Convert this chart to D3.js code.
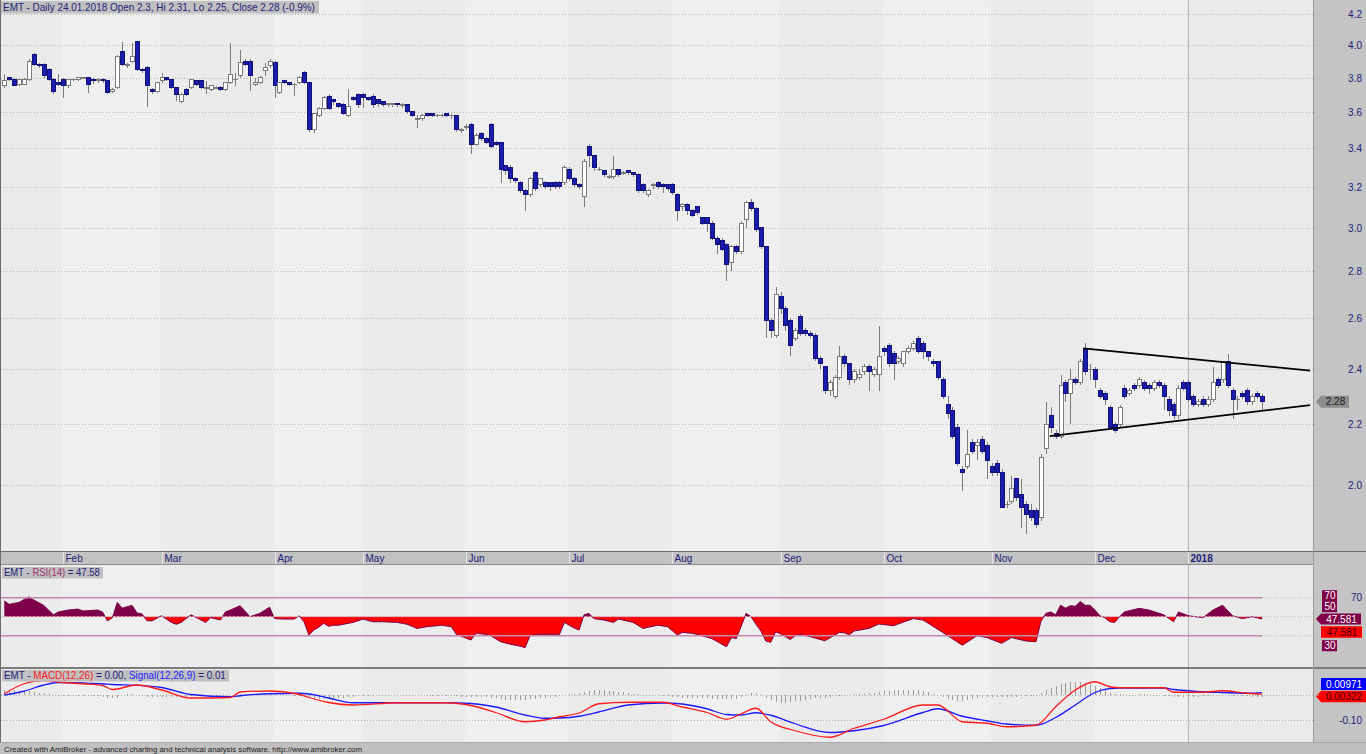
<!DOCTYPE html>
<html><head><meta charset="utf-8">
<script src="https://cdn.jsdelivr.net/npm/d3@7"></script>
<style>
html,body{margin:0;padding:0;background:#ebebeb;overflow:hidden}
svg{display:block}
text{font-family:"Liberation Sans",Arial,sans-serif}
</style></head><body>
<svg id="c" width="1366" height="754"></svg>
<script>
// ---------------- DATA ----------------
const opens = [
3.75,3.80,3.79,3.76,3.76,3.79,3.94,3.88,3.88,3.85,
3.79,3.77,3.79,3.75,3.79,3.79,3.80,3.80,3.79,3.78,
3.79,3.78,3.72,3.74,3.96,3.87,3.90,4.02,3.85,3.86,
3.73,3.72,3.78,3.80,3.79,3.74,3.66,3.73,3.74,3.78,
3.78,3.74,3.73,3.74,3.74,3.73,3.77,3.79,3.81,3.90,
3.90,3.76,3.77,3.84,3.87,3.89,3.71,3.78,3.77,3.76,
3.77,3.83,3.77,3.50,3.58,3.62,3.69,3.67,3.65,3.64,
3.58,3.68,3.70,3.70,3.68,3.69,3.67,3.66,3.64,3.64,
3.65,3.64,3.64,3.60,3.56,3.56,3.59,3.59,3.58,3.58,
3.59,3.58,3.58,3.50,3.51,3.53,3.42,3.48,3.45,3.53,
3.43,3.43,3.31,3.30,3.24,3.22,3.18,3.16,3.27,3.21,
3.22,3.22,3.22,3.22,3.22,3.29,3.24,3.21,3.15,3.41,
3.36,3.29,3.28,3.25,3.25,3.29,3.27,3.28,3.27,3.26,
3.21,3.16,3.21,3.22,3.21,3.21,3.21,3.16,3.10,3.11,
3.08,3.10,3.05,3.05,3.02,2.95,2.94,2.92,2.84,2.91,
2.89,3.04,3.12,3.09,3.00,2.91,2.59,2.53,2.69,2.64,
2.59,2.52,2.61,2.55,2.54,2.53,2.44,2.41,2.32,2.30,
2.37,2.45,2.42,2.36,2.37,2.39,2.41,2.38,2.38,2.48,
2.49,2.46,2.43,2.42,2.47,2.48,2.52,2.50,2.47,2.43,
2.43,2.36,2.27,2.25,2.19,2.05,2.06,2.14,2.13,2.15,
2.13,2.06,2.07,2.04,1.94,1.95,2.02,1.97,1.94,1.92,
1.92,1.90,2.12,2.23,2.17,2.16,2.35,2.31,2.36,2.35,
2.48,2.40,2.40,2.32,2.31,2.26,2.20,2.20,2.33,2.31,
2.34,2.34,2.35,2.34,2.33,2.35,2.34,2.29,2.27,2.23,
2.35,2.35,2.30,2.27,2.29,2.27,2.29,2.36,2.36,2.43,
2.32,2.29,2.31,2.32,2.28,2.31,2.30];
const highs = [
3.82,3.80,3.80,3.79,3.80,3.91,3.95,3.89,3.89,3.86,
3.80,3.82,3.80,3.79,3.80,3.80,3.80,3.80,3.80,3.80,
3.80,3.78,3.74,3.94,4.02,3.89,4.01,4.02,3.86,3.87,
3.74,3.77,3.83,3.80,3.79,3.74,3.71,3.74,3.79,3.78,
3.78,3.78,3.75,3.75,3.75,3.77,4.01,3.83,3.97,3.91,
3.91,3.80,3.81,3.89,3.91,3.90,3.77,3.78,3.77,3.77,
3.81,3.84,3.77,3.59,3.63,3.69,3.70,3.67,3.65,3.65,
3.73,3.69,3.71,3.71,3.68,3.70,3.67,3.66,3.65,3.65,
3.65,3.65,3.64,3.60,3.58,3.59,3.59,3.59,3.59,3.59,
3.59,3.59,3.58,3.51,3.53,3.54,3.48,3.49,3.46,3.54,
3.44,3.43,3.31,3.31,3.25,3.23,3.19,3.25,3.28,3.24,
3.23,3.22,3.23,3.23,3.31,3.30,3.25,3.22,3.34,3.42,
3.36,3.30,3.28,3.26,3.36,3.29,3.28,3.28,3.27,3.27,
3.22,3.19,3.22,3.23,3.22,3.21,3.22,3.17,3.12,3.12,
3.09,3.10,3.05,3.05,3.03,2.96,2.95,2.93,2.92,2.92,
3.03,3.13,3.14,3.10,3.00,2.91,2.60,2.73,2.71,2.65,
2.60,2.56,2.62,2.56,2.55,2.54,2.45,2.41,2.36,2.38,
2.49,2.46,2.42,2.40,2.40,2.42,2.42,2.41,2.57,2.49,
2.50,2.47,2.45,2.47,2.49,2.51,2.53,2.51,2.47,2.44,
2.43,2.37,2.30,2.26,2.20,2.06,2.18,2.15,2.15,2.16,
2.14,2.07,2.08,2.05,1.95,2.03,2.02,2.02,1.95,1.94,
1.93,2.10,2.28,2.26,2.18,2.38,2.36,2.40,2.37,2.44,
2.50,2.42,2.41,2.33,2.32,2.27,2.21,2.27,2.34,2.33,
2.35,2.37,2.36,2.35,2.36,2.36,2.35,2.30,2.28,2.34,
2.36,2.36,2.31,2.29,2.30,2.30,2.41,2.37,2.43,2.46,
2.33,2.30,2.32,2.33,2.31,2.32,2.31];
const lows = [
3.74,3.78,3.75,3.75,3.76,3.78,3.87,3.86,3.80,3.78,
3.70,3.75,3.68,3.74,3.78,3.78,3.79,3.71,3.76,3.77,
3.77,3.70,3.71,3.73,3.87,3.86,3.89,3.84,3.83,3.63,
3.70,3.71,3.77,3.78,3.73,3.66,3.65,3.69,3.73,3.75,
3.73,3.70,3.72,3.73,3.72,3.72,3.76,3.75,3.80,3.87,
3.72,3.75,3.76,3.81,3.86,3.68,3.70,3.76,3.75,3.69,
3.76,3.76,3.49,3.48,3.57,3.61,3.61,3.64,3.62,3.58,
3.57,3.66,3.62,3.62,3.66,3.62,3.63,3.63,3.63,3.63,
3.63,3.62,3.59,3.57,3.51,3.55,3.57,3.57,3.57,3.57,
3.57,3.56,3.49,3.48,3.50,3.37,3.41,3.44,3.42,3.40,
3.41,3.22,3.26,3.22,3.22,3.17,3.08,3.15,3.18,3.20,
3.19,3.18,3.19,3.19,3.21,3.23,3.20,3.19,3.10,3.30,
3.28,3.28,3.25,3.24,3.24,3.25,3.26,3.26,3.25,3.17,
3.17,3.15,3.19,3.19,3.17,3.18,3.16,3.03,3.08,3.06,
3.05,3.06,3.01,2.98,2.94,2.88,2.89,2.76,2.80,2.88,
2.88,3.00,3.08,2.98,2.90,2.52,2.52,2.52,2.62,2.55,
2.45,2.51,2.53,2.53,2.52,2.43,2.40,2.31,2.30,2.29,
2.36,2.41,2.34,2.35,2.36,2.38,2.32,2.37,2.32,2.45,
2.41,2.36,2.42,2.41,2.46,2.47,2.46,2.44,2.43,2.41,
2.36,2.29,2.22,2.15,2.06,1.98,2.05,2.10,2.08,2.10,
2.02,2.03,2.03,1.93,1.93,1.94,1.95,1.87,1.85,1.89,
1.87,1.89,2.10,2.17,2.15,2.15,2.28,2.20,2.34,2.34,
2.38,2.36,2.33,2.29,2.27,2.18,2.17,2.19,2.29,2.30,
2.32,2.33,2.32,2.31,2.32,2.33,2.25,2.23,2.22,2.22,
2.32,2.28,2.26,2.26,2.26,2.26,2.28,2.33,2.35,2.33,
2.22,2.25,2.29,2.27,2.27,2.29,2.25];
const closes = [
3.78,3.79,3.75,3.79,3.79,3.90,3.88,3.87,3.81,3.79,
3.72,3.76,3.75,3.79,3.79,3.80,3.80,3.76,3.78,3.79,
3.78,3.71,3.73,3.93,3.88,3.88,3.93,3.85,3.84,3.75,
3.72,3.77,3.80,3.79,3.74,3.70,3.70,3.70,3.79,3.76,
3.74,3.74,3.75,3.74,3.73,3.77,3.82,3.79,3.89,3.88,
3.81,3.77,3.80,3.86,3.90,3.75,3.77,3.77,3.76,3.76,
3.80,3.77,3.50,3.59,3.62,3.68,3.62,3.66,3.63,3.59,
3.63,3.67,3.64,3.68,3.67,3.64,3.65,3.64,3.65,3.65,
3.64,3.64,3.60,3.58,3.56,3.58,3.58,3.58,3.58,3.58,
3.58,3.58,3.50,3.50,3.52,3.42,3.47,3.45,3.43,3.41,
3.42,3.29,3.28,3.24,3.23,3.18,3.16,3.24,3.19,3.24,
3.20,3.20,3.20,3.20,3.30,3.24,3.21,3.20,3.33,3.36,
3.30,3.29,3.26,3.25,3.29,3.26,3.27,3.27,3.26,3.18,
3.18,3.18,3.21,3.20,3.20,3.19,3.17,3.08,3.11,3.08,
3.06,3.07,3.02,3.02,2.95,2.92,2.90,2.83,2.91,2.89,
3.02,3.12,3.09,2.99,2.91,2.59,2.55,2.70,2.64,2.57,
2.49,2.55,2.54,2.54,2.53,2.44,2.42,2.32,2.35,2.37,
2.45,2.42,2.36,2.39,2.38,2.41,2.39,2.40,2.45,2.47,
2.42,2.42,2.44,2.47,2.48,2.50,2.47,2.47,2.45,2.42,
2.37,2.30,2.24,2.16,2.07,2.04,2.10,2.11,2.14,2.11,
2.08,2.04,2.04,1.93,1.94,1.99,1.96,1.93,1.91,1.90,
1.88,2.09,2.20,2.19,2.16,2.34,2.31,2.36,2.35,2.43,
2.39,2.40,2.36,2.30,2.29,2.19,2.18,2.26,2.30,2.32,
2.33,2.36,2.33,2.33,2.35,2.34,2.30,2.25,2.23,2.33,
2.33,2.29,2.27,2.28,2.27,2.29,2.35,2.34,2.43,2.34,
2.29,2.29,2.30,2.28,2.30,2.30,2.28];

const monthLabels = ["Feb","Mar","Apr","May","Jun","Jul","Aug","Sep","Oct","Nov","Dec","2018"];
const monthIdx    = [12,32,55,73,94,115,136,158,179,201,222,241];
const priceTicks  = [2.0,2.2,2.4,2.6,2.8,3.0,3.2,3.4,3.6,3.8,4.0,4.2];

const rsiIdx = [0,1,3,5,6,8,10,11,13,15,16,19,20,21,22,23,24,26,27,28,29,30,32,34,35,36,38,41,42,44,45,46,48,50,52,54,55,57,59,60,61,62,63,64,65,66,67,68,71,73,75,77,80,82,84,86,89,91,92,95,96,98,99,101,103,105,106,107,109,113,114,116,117,118,119,120,122,124,125,128,130,133,135,137,138,140,141,144,147,148,149,150,151,152,153,154,155,156,157,158,159,160,161,162,164,167,170,171,172,173,176,178,181,185,187,191,195,198,200,203,205,208,210,211,212,213,214,215,216,217,218,219,220,221,222,223,224,225,226,227,228,231,233,236,238,239,241,244,246,248,250,252,254,256];
const rsiVals = [66.5,63,65,71,67.5,62,52,55,57,58,56,57,55,45.5,49,65,59,62,54,53,46,45.5,51,44,42,44,52,44,49,46.5,55,57,61.6,50,53.5,60,48,47.5,47.5,51,44.7,30.7,36,39,43,40,41,41,44,47.5,44.7,44.7,44,42,37.7,39.5,41,39.5,31.4,25.4,32.5,31.4,30,23.7,21,19,17.4,30,31.4,31.4,44,38,36,52,53.5,48,46.5,44,47.5,44,37.7,41,39.5,30.7,33.5,32.5,31.4,27,18.4,28,27,40,53.5,50,42,35,24.4,23,34,32,29,26,30,31.4,29,24.7,33.5,33,31,35,37.7,42.3,40.5,48,46.5,33.5,20,30,28,22,28,24.4,23.7,45,53.5,55,52,62,59,61.6,61,66,62,62,57,51,49,44.7,44,50,55,58.8,57,52,44.7,55,51,49,57,62,51,48,50,47.58];

const macdIdx    = [0,4,8,11,16,20,22,27,32,38,46,48,54,60,62,66,71,80,90,95,100,106,110,113,117,121,127,134,138,143,147,150,153,156,161,168,173,179,187,190,195,200,204,210,214,218,222,225,227,236,238,244,248,253,256];
const macdVals   = [0.005,0.045,0.058,0.052,0.045,0.038,0.022,0.040,0.020,-0.012,-0.010,0.012,0.016,0.003,-0.010,-0.030,-0.040,-0.031,-0.031,-0.042,-0.070,-0.107,-0.100,-0.087,-0.072,-0.035,-0.029,-0.029,-0.048,-0.070,-0.097,-0.075,-0.053,-0.107,-0.143,-0.169,-0.133,-0.097,-0.040,-0.040,-0.107,-0.113,-0.127,-0.121,-0.047,0.020,0.053,0.033,0.029,0.029,0.011,0.011,0.017,0.007,0.0032];
const signalVals = [0.000,0.015,0.040,0.050,0.048,0.045,0.042,0.039,0.030,0.002,-0.007,-0.003,0.005,0.007,0.004,-0.012,-0.031,-0.031,-0.031,-0.034,-0.048,-0.080,-0.093,-0.092,-0.085,-0.068,-0.040,-0.032,-0.036,-0.055,-0.078,-0.080,-0.071,-0.081,-0.115,-0.150,-0.143,-0.122,-0.070,-0.055,-0.085,-0.103,-0.116,-0.121,-0.090,-0.040,0.010,0.026,0.028,0.028,0.022,0.013,0.010,0.007,0.0097];
const histVals = [
0.020,0.020,0.019,0.018,0.016,0.015,0.012,0.010,0.008,0.005,
0.002,-0.002,-0.003,-0.004,-0.004,-0.003,-0.004,-0.004,-0.003,-0.004,
-0.006,-0.010,-0.013,-0.010,0.002,0.003,0.003,0.002,-0.004,-0.006,
-0.007,-0.007,-0.006,-0.007,-0.008,-0.008,-0.007,-0.006,-0.004,-0.003,
-0.003,-0.002,-0.003,-0.002,-0.002,-0.001,0.002,0.004,0.005,0.005,
0.004,0.005,0.005,0.006,0.005,0.003,0.002,0.001,0.000,-0.002,
-0.003,-0.006,-0.012,-0.017,-0.017,-0.015,-0.014,-0.012,-0.011,-0.010,
-0.008,-0.007,-0.005,-0.003,-0.002,-0.002,-0.001,0.001,0.002,0.002,
0.002,0.001,0.001,0.000,-0.001,-0.001,-0.002,-0.002,-0.002,-0.003,
-0.003,-0.004,-0.005,-0.006,-0.006,-0.008,-0.008,-0.008,-0.009,-0.011,
-0.012,-0.015,-0.018,-0.020,-0.020,-0.021,-0.020,-0.017,-0.015,-0.012,
-0.010,-0.008,-0.006,-0.004,0.002,0.004,0.006,0.008,0.014,0.018,
0.020,0.020,0.019,0.018,0.017,0.014,0.011,0.008,0.005,0.003,
0.002,0.002,0.001,0.000,-0.002,-0.004,-0.006,-0.009,-0.010,-0.010,
-0.011,-0.011,-0.012,-0.013,-0.014,-0.015,-0.016,-0.017,-0.016,-0.014,
-0.008,0.004,0.008,0.009,0.004,-0.010,-0.020,-0.027,-0.030,-0.030,
-0.028,-0.025,-0.022,-0.019,-0.016,-0.013,-0.011,-0.010,-0.008,-0.005,
-0.002,0.000,0.001,0.003,0.004,0.006,0.008,0.010,0.014,0.017,
0.018,0.019,0.021,0.022,0.022,0.021,0.020,0.016,0.011,0.006,
0.000,-0.008,-0.016,-0.021,-0.023,-0.022,-0.018,-0.014,-0.011,-0.009,
-0.008,-0.008,-0.007,-0.008,-0.007,-0.006,-0.006,-0.005,-0.005,-0.004,
-0.002,0.010,0.020,0.030,0.038,0.045,0.050,0.053,0.054,0.053,
0.050,0.045,0.038,0.030,0.020,0.010,0.005,0.003,0.002,0.002,
0.002,0.003,0.003,0.002,0.002,0.001,-0.002,-0.005,-0.008,-0.008,
-0.008,-0.007,-0.006,-0.006,-0.005,-0.004,-0.002,0.000,0.002,-0.001,
-0.004,-0.005,-0.005,-0.005,-0.006,-0.006,-0.006];

const trendUpperIdx = [219.6, 265.8], trendUpperPrice = [2.48, 2.395];
const trendLowerIdx = [212.8, 265.8], trendLowerPrice = [2.16, 2.268];

const lastClose = 2.28, rsiLast = 47.581, macdLast = 0.00322, signalLast = 0.00971;

// ---------------- LAYOUT ----------------
const W = 1366, H = 754, plotRight = 1313;
const P = {top: 0, bottom: 551}, AX = {top: 551, bottom: 565}, R = {top: 565, bottom: 668}, M = {top: 668, bottom: 742};
const navy = '#20207a';
const n = closes.length;
const svg = d3.select('#c');

const x  = d3.scaleLinear().domain([0, n - 1]).range([4.3, 1262]);
const yP = d3.scaleLog().domain([2.0, 4.2]).range([485, 14]);
const yR = d3.scaleLinear().domain([30, 70]).range([635.7, 597.7]);
const yM = d3.scaleLinear().domain([-0.10, 0]).range([720, 695]);

const defs = svg.append('defs');
[['clipP', P], ['clipR', R], ['clipM', M]].forEach(([id, p]) => {
  defs.append('clipPath').attr('id', id).append('rect')
    .attr('x', 1).attr('y', p.top).attr('width', plotRight - 1).attr('height', p.bottom - p.top);
});

// backgrounds
svg.append('rect').attr('width', W).attr('height', H).attr('fill', '#ebebeb');
svg.append('rect').attr('x', plotRight).attr('y', 0).attr('width', W - plotRight).attr('height', M.bottom).attr('fill', '#c4c4c4');

// alternating month shading (subtle)
const shadeG = svg.append('g');
for (let k = 0; k + 1 < monthIdx.length; k += 2) {
  const x0 = x(monthIdx[k]) - 1, x1 = x(monthIdx[k + 1]) - 1;
  [P, R, M].forEach(p => shadeG.append('rect').attr('x', x0).attr('y', p.top + 1)
    .attr('width', x1 - x0).attr('height', p.bottom - p.top - 1).attr('fill', '#efefef'));
}

// year line
const yearX = Math.round(x(monthIdx[monthIdx.length - 1])) + 0.5;
[P, R, M].forEach(p => svg.append('line').attr('x1', yearX).attr('x2', yearX)
  .attr('y1', p.top).attr('y2', p.bottom).attr('stroke', '#b4b4b4'));

// ---------- PRICE PANEL ----------
const gridG = svg.append('g');
priceTicks.forEach(t => {
  const yy = Math.round(yP(t)) + 0.5;
  gridG.append('line').attr('x1', 1).attr('x2', plotRight + 6).attr('y1', yy).attr('y2', yy)
    .attr('stroke', '#b8b8b8').attr('stroke-dasharray', '1,2');
  gridG.append('text').attr('x', 1362).attr('y', yy + 3.5).attr('text-anchor', 'end')
    .attr('font-size', 10).attr('fill', navy).text(t.toFixed(1));
});

const bars = closes.map((c, i) => ({i, o: opens[i], h: highs[i], l: lows[i], c}));
const candleG = svg.append('g').attr('clip-path', 'url(#clipP)').attr('shape-rendering', 'crispEdges');
candleG.selectAll('line.w').data(bars).join('line').attr('class', 'w')
  .attr('x1', d => Math.round(x(d.i))).attr('x2', d => Math.round(x(d.i)))
  .attr('y1', d => yP(d.h)).attr('y2', d => yP(d.l)).attr('stroke', '#7c7c7c');
candleG.selectAll('rect.b').data(bars).join('rect').attr('class', 'b')
  .attr('x', d => Math.round(x(d.i)) - 2).attr('width', 4)
  .attr('y', d => yP(Math.max(d.o, d.c)))
  .attr('height', d => Math.max(0.6, yP(Math.min(d.o, d.c)) - yP(Math.max(d.o, d.c))))
  .attr('fill', d => d.c >= d.o ? '#ffffff' : '#1c1cac')
  .attr('stroke', d => d.c >= d.o ? '#7c7c7c' : '#12127c');

// trendlines
const trendG = svg.append('g').attr('clip-path', 'url(#clipP)');
[[trendUpperIdx, trendUpperPrice], [trendLowerIdx, trendLowerPrice]].forEach(([ix, pr]) => {
  trendG.append('line').attr('x1', x(ix[0])).attr('y1', yP(pr[0])).attr('x2', x(ix[1])).attr('y2', yP(pr[1]))
    .attr('stroke', '#000').attr('stroke-width', 1.8);
});

// badges
function badge(g, tipX, yy, x0, x1, h, fill, txtFill, label, arrow) {
  const t = yy - h / 2, b = yy + h / 2;
  const path = arrow ? `M${tipX},${yy}L${x0},${t}L${x1},${t}L${x1},${b}L${x0},${b}Z`
                     : `M${x0},${t}L${x1},${t}L${x1},${b}L${x0},${b}Z`;
  g.append('path').attr('d', path).attr('fill', fill);
  g.append('text').attr('x', (x0 + x1) / 2 + 0.5).attr('y', yy + 3.6).attr('text-anchor', 'middle')
    .attr('font-size', 10).attr('fill', txtFill).text(label);
}
const badgeG = svg.append('g');
badge(badgeG, 1316, yP(lastClose), 1321, 1349, 12, '#8c8c8c', '#1a1a1a', lastClose.toFixed(2), true);

// titles: natural text, horizontally scaled to the reference width
function title(x0, y0, w, h, target, parts) {
  svg.append('rect').attr('x', x0).attr('y', y0).attr('width', w).attr('height', h).attr('fill', '#c0c0c0');
  const g = svg.append('g');
  const t = g.append('text').attr('x', 0).attr('y', 0).attr('font-size', 10.5);
  parts.forEach(p => t.append('tspan').attr('fill', p[1]).text(p[0]));
  const nat = t.node().getComputedTextLength() || target;
  g.attr('transform', `translate(${x0 + 2},${y0 + h - 2.6}) scale(${target / nat},1)`);
}

// ---------- X AXIS STRIP ----------
svg.append('rect').attr('x', 0).attr('y', AX.top).attr('width', plotRight).attr('height', AX.bottom - AX.top).attr('fill', '#c2c2c2');
svg.append('line').attr('x1', 0).attr('x2', W).attr('y1', AX.top + 0.5).attr('y2', AX.top + 0.5).attr('stroke', '#6c6c6c');
svg.append('line').attr('x1', 0).attr('x2', plotRight).attr('y1', AX.bottom - 0.5).attr('y2', AX.bottom - 0.5).attr('stroke', '#8c8c8c');
monthIdx.forEach((mi, k) => {
  const xx = Math.round(x(mi)) + 0.5;
  svg.append('line').attr('x1', xx).attr('x2', xx).attr('y1', AX.top + 1).attr('y2', AX.bottom - 1).attr('stroke', '#e6e6e6');
  svg.append('text').attr('x', xx + 2).attr('y', AX.top + 10.5).attr('font-size', 10)
    .attr('font-weight', monthLabels[k] === '2018' ? 'bold' : 'normal').attr('fill', navy).text(monthLabels[k]);
});

// ---------- RSI PANEL ----------
const rsiPts = rsiIdx.map((k, j) => ({i: k, v: rsiVals[j]}));
const y50 = yR(50);
defs.append('clipPath').attr('id', 'rsiUp').append('rect').attr('x', 0).attr('y', R.top).attr('width', plotRight).attr('height', y50 - R.top);
defs.append('clipPath').attr('id', 'rsiDn').append('rect').attr('x', 0).attr('y', y50).attr('width', plotRight).attr('height', R.bottom - y50);
const rsiArea = d3.area().x(d => x(d.i)).y0(y50).y1(d => yR(d.v));
svg.append('path').datum(rsiPts).attr('d', rsiArea).attr('fill', '#7d0048').attr('clip-path', 'url(#rsiUp)');
svg.append('path').datum(rsiPts).attr('d', rsiArea).attr('fill', '#ff0000').attr('clip-path', 'url(#rsiDn)');
svg.append('path').datum(rsiPts).attr('d', d3.line().x(d => x(d.i)).y(d => yR(d.v)))
  .attr('fill', 'none').attr('stroke', '#7d0048').attr('stroke-width', 1);
[70, 30].forEach(v => {
  svg.append('line').attr('x1', 1).attr('x2', x(n - 1)).attr('y1', yR(v)).attr('y2', yR(v)).attr('stroke', '#c28aac').attr('stroke-width', 1.6);
  svg.append('line').attr('x1', x(n - 1)).attr('x2', plotRight + 6).attr('y1', yR(v)).attr('y2', yR(v)).attr('stroke', '#b8b8b8').attr('stroke-dasharray', '1,2');
});
svg.append('line').attr('x1', 1).attr('x2', x(n - 1)).attr('y1', y50).attr('y2', y50).attr('stroke', '#e0b0c8').attr('stroke-dasharray', '2,2');
svg.append('line').attr('x1', x(n - 1)).attr('x2', plotRight + 6).attr('y1', y50).attr('y2', y50).attr('stroke', '#b8b8b8').attr('stroke-dasharray', '1,2');
// RSI right axis
svg.append('text').attr('x', 1362).attr('y', yR(70) + 3.5).attr('text-anchor', 'end').attr('font-size', 10).attr('fill', navy).text('70');
badge(badgeG, 0, yR(70) - 2, 1322, 1337, 11, '#800048', '#ffffff', '70', false);
badge(badgeG, 0, yR(50) - 10, 1322, 1337, 11, '#800048', '#ffffff', '50', false);
badge(badgeG, 1316, yR(rsiLast), 1321, 1361, 11, '#800048', '#ffffff', rsiLast.toFixed(3), true);
badge(badgeG, 0, yR(rsiLast) + 13, 1321, 1362, 11.5, '#ff0000', '#3a0000', rsiLast.toFixed(3), false);
badge(badgeG, 0, yR(30) + 10, 1322, 1337, 11, '#800048', '#ffffff', '30', false);

// ---------- MACD PANEL ----------
svg.append('line').attr('x1', 0).attr('x2', W).attr('y1', M.top).attr('y2', M.top).attr('stroke', '#7c7c7c').attr('stroke-width', 2);
[0, -0.10].forEach(v => svg.append('line').attr('x1', 1).attr('x2', plotRight + 6).attr('y1', Math.round(yM(v)) + 0.5).attr('y2', Math.round(yM(v)) + 0.5)
  .attr('stroke', '#b0b0b0').attr('stroke-dasharray', '1,2'));
const histG = svg.append('g').attr('clip-path', 'url(#clipM)').attr('shape-rendering', 'crispEdges');
histG.selectAll('line').data(histVals).join('line')
  .attr('x1', (d, i) => Math.round(x(i))).attr('x2', (d, i) => Math.round(x(i)))
  .attr('y1', yM(0)).attr('y2', d => yM(d)).attr('stroke', '#9c9c9c');
const mLine = d3.line().curve(d3.curveMonotoneX).x(d => x(d[0])).y(d => yM(d[1]));
const macdG = svg.append('g').attr('clip-path', 'url(#clipM)');
macdG.append('path').datum(macdIdx.map((k, j) => [k, signalVals[j]])).attr('d', mLine)
  .attr('fill', 'none').attr('stroke', '#1a1aff').attr('stroke-width', 1.3);
macdG.append('path').datum(macdIdx.map((k, j) => [k, macdVals[j]])).attr('d', mLine)
  .attr('fill', 'none').attr('stroke', '#ff1a1a').attr('stroke-width', 1.3);
svg.append('text').attr('x', 1362).attr('y', yM(-0.10) + 3.5).attr('text-anchor', 'end').attr('font-size', 10).attr('fill', navy).text('-0.10');
badge(badgeG, 0, 684, 1321, 1366, 12, '#0000ff', '#ffffff', signalLast.toFixed(5), false);
badge(badgeG, 1316, 696.5, 1321, 1366, 11.5, '#ff0000', '#3a0000', macdLast.toFixed(5), true);

// panel borders
svg.append('line').attr('x1', 0.5).attr('x2', 0.5).attr('y1', 0).attr('y2', M.bottom).attr('stroke', '#6c6c6c');
svg.append('line').attr('x1', plotRight + 0.5).attr('x2', plotRight + 0.5).attr('y1', 0).attr('y2', M.bottom).attr('stroke', '#9a9a9a');

// titles (drawn over the plots)
title(1, 1, 318, 12.5, 312, [['EMT - Daily 24.01.2018 Open 2.3, Hi 2.31, Lo 2.25, Close 2.28 (-0.9%)', navy]]);
title(2, 567, 101, 11.5, 96, [['EMT - ', navy], ['RSI(14)', '#a03070'], [' = 47.58', navy]]);
title(2, 670, 227, 11.5, 222, [['EMT - ', navy], ['MACD(12,26)', '#ff1a1a'], [' = 0.00, ', navy], ['Signal(12,26,9)', '#2020ff'], [' = 0.01', navy]]);

// status bar
svg.append('rect').attr('x', 0).attr('y', M.bottom).attr('width', W).attr('height', H - M.bottom).attr('fill', '#c0c0c0');
svg.append('line').attr('x1', 0).attr('x2', W).attr('y1', M.bottom + 0.5).attr('y2', M.bottom + 0.5).attr('stroke', '#a8a8a8');
svg.append('text').attr('x', 4).attr('y', 751.5).attr('font-size', 8).attr('fill', '#1a1a1a')
  .attr('textLength', 358).attr('lengthAdjust', 'spacingAndGlyphs')
  .text('Created with AmiBroker - advanced charting and technical analysis software. http://www.amibroker.com');
</script>
</body></html>
